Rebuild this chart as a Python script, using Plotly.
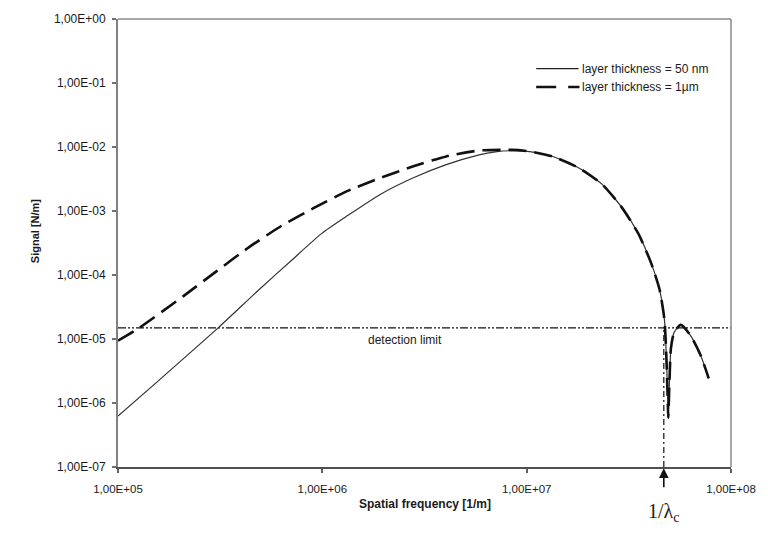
import plotly.graph_objects as go
import math

# ---- data ----
freq_50nm = [1.00e5, 1.56e5, 3.09e5, 4.91e5, 7.10e5, 9.91e5, 1.33e6, 1.93e6, 2.79e6,
             4.04e6, 5.85e6, 7.03e6, 8.61e6, 1.035e7, 1.34e7, 1.80e7, 2.34e7, 2.92e7,
             3.52e7, 4.07e7, 4.47e7, 4.72e7, 4.81e7, 4.90e7, 4.93e7, 5.08e7, 5.27e7,
             5.68e7, 6.34e7, 7.10e7, 7.78e7]
signal_50nm = [6.24e-7, 2.16e-6, 1.49e-5, 5.93e-5, 1.72e-4, 4.43e-4, 8.47e-4, 1.83e-3, 3.30e-3,
               5.30e-3, 7.55e-3, 8.41e-3, 8.75e-3, 8.47e-3, 7.11e-3, 4.71e-3, 2.61e-3, 1.14e-3,
               4.43e-4, 1.52e-4, 5.92e-5, 2.04e-5, 7.08e-6, 1.20e-6, 5.89e-7, 7.05e-6, 1.27e-5,
               1.66e-5, 1.13e-5, 5.57e-6, 2.43e-6]

freq_1um = [1.00e5, 1.27e5, 2.09e5, 3.03e5, 4.40e5, 6.35e5, 9.20e5, 1.33e6, 1.93e6, 2.79e6,
            4.04e6, 5.85e6, 8.47e6, 1.035e7, 1.34e7, 1.80e7, 2.34e7, 2.92e7, 3.52e7, 4.07e7,
            4.47e7, 4.72e7, 4.81e7, 4.90e7, 4.93e7, 5.08e7, 5.27e7, 5.68e7, 6.34e7, 7.10e7, 7.78e7]
signal_1um = [9.4e-6, 1.49e-5, 4.68e-5, 1.14e-4, 2.75e-4, 5.94e-4, 1.14e-3, 2.06e-3, 3.30e-3, 5.00e-3,
              7.13e-3, 8.81e-3, 9.02e-3, 8.55e-3, 7.11e-3, 4.71e-3, 2.61e-3, 1.14e-3, 4.43e-4, 1.52e-4,
              5.92e-5, 2.04e-5, 7.08e-6, 1.20e-6, 5.89e-7, 7.05e-6, 1.27e-5, 1.66e-5, 1.13e-5, 5.57e-6, 2.43e-6]

detection_limit = 1.49e-5
lambda_c_inv = 4.69e7
x_range = [1e5, 1e8]
y_min = 1e-7

x_tickvals = [1e5, 1e6, 1e7, 1e8]
x_ticktext = ["1,00E+05", "1,00E+06", "1,00E+07", "1,00E+08"]
y_tickvals = [1e-7, 1e-6, 1e-5, 1e-4, 1e-3, 1e-2, 1e-1, 1e0]
y_ticktext = ["1,00E-07", "1,00E-06", "1,00E-05", "1,00E-04", "1,00E-03",
              "1,00E-02", "1,00E-01", "1,00E+00"]

name_50nm = "layer thickness = 50 nm"
name_1um = "layer thickness = 1µm"

FONT = "Liberation Sans, Arial, sans-serif"
TXT = "#1a1a1a"

fig = go.Figure()

# detection limit line
fig.add_trace(go.Scatter(x=x_range, y=[detection_limit, detection_limit], mode="lines",
                         line=dict(color="#111", width=1.4, dash="8px,2px,2px,2px,2px,2px"),
                         showlegend=False, hoverinfo="skip"))
# vertical marker line at 1/lambda_c
fig.add_trace(go.Scatter(x=[lambda_c_inv, lambda_c_inv], y=[y_min, detection_limit], mode="lines",
                         line=dict(color="#111", width=1.2, dash="6px,3px,2px,3px"),
                         showlegend=False, hoverinfo="skip"))

fig.add_trace(go.Scatter(x=freq_50nm, y=signal_50nm, mode="lines", name=name_50nm,
                         line=dict(color="#333", width=1.2, shape="spline", smoothing=0.6),
                         showlegend=False))
fig.add_trace(go.Scatter(x=freq_1um, y=signal_1um, mode="lines", name=name_1um,
                         line=dict(color="#111", width=2.6, dash="18px,8px",
                                   shape="spline", smoothing=0.6),
                         showlegend=False))

# manual legend (sample lines + labels)
fig.add_shape(type="line", xref="paper", yref="paper",
              x0=(543 - 118) / 623, x1=(586 - 118) / 623,
              y0=(467 - 62.3) / 455, y1=(467 - 62.3) / 455,
              line=dict(color="#222", width=1.2))
fig.add_shape(type="line", xref="paper", yref="paper",
              x0=(543 - 118) / 623, x1=(587 - 118) / 623,
              y0=(467 - 81) / 455, y1=(467 - 81) / 455,
              line=dict(color="#111", width=2.6, dash="20px,12px"))
fig.add_annotation(text=name_50nm, xref="paper", yref="paper",
                   x=(588 - 118) / 623, y=(467 - 62.3) / 455, xanchor="left", yanchor="middle",
                   showarrow=False, font=dict(family=FONT, size=12, color=TXT))
fig.add_annotation(text=name_1um, xref="paper", yref="paper",
                   x=(588 - 118) / 623, y=(467 - 81) / 455, xanchor="left", yanchor="middle",
                   showarrow=False, font=dict(family=FONT, size=12, color=TXT))

# top & right frame
fig.add_shape(type="line", xref="paper", yref="paper", x0=0, x1=1, y0=1, y1=1,
              line=dict(color="#8a8a8a", width=1.5))
fig.add_shape(type="line", xref="paper", yref="paper", x0=1, x1=1, y0=0, y1=1,
              line=dict(color="#8a8a8a", width=1.5))

# detection limit label
fig.add_annotation(text="detection limit", x=math.log10(2.54e6), y=math.log10(detection_limit),
                   yshift=-12, showarrow=False, font=dict(family=FONT, size=12, color=TXT))

# arrow and 1/lambda_c label
fig.add_annotation(text=" ", x=math.log10(lambda_c_inv), xref="x", y=-0.003, yref="paper",
                   ax=0, ay=29, showarrow=True, arrowhead=2, arrowsize=1.2, arrowwidth=1.6,
                   arrowcolor="#111")
fig.add_annotation(text="1/λ<sub>c</sub>", x=math.log10(lambda_c_inv), xref="x",
                   y=(467 - 528) / 455, yref="paper", showarrow=False,
                   font=dict(family="Liberation Serif, Times New Roman, serif", size=20, color=TXT))

# axis titles
fig.add_annotation(text="<b>Spatial frequency [1/m]</b>", xref="paper", yref="paper",
                   x=0.5, y=(467 - 514) / 455, showarrow=False,
                   font=dict(family=FONT, size=12, color=TXT))
fig.add_annotation(text="<b>Signal [N/m]</b>", xref="paper", yref="paper",
                   x=(25 - 118) / 623, y=(467 - 227) / 455, textangle=-90, showarrow=False,
                   font=dict(family=FONT, size=11, color=TXT))

fig.update_xaxes(type="log", range=[5, 8], tickvals=x_tickvals, ticktext=x_ticktext,
                 showgrid=False, zeroline=False, showline=True, linecolor="#505050", linewidth=2,
                 ticks="outside", ticklen=4, tickwidth=1.5, tickcolor="#606060",
                 ticklabelstandoff=6, tickfont=dict(family=FONT, size=11.5, color=TXT))
fig.update_yaxes(type="log", range=[-7, 0], tickvals=y_tickvals, ticktext=y_ticktext,
                 showgrid=False, zeroline=False, showline=True, linecolor="#808080", linewidth=2,
                 ticks="outside", ticklen=4, tickwidth=1.5, tickcolor="#707070",
                 ticklabelstandoff=4, tickfont=dict(family=FONT, size=12, color=TXT))

fig.update_layout(width=768, height=543, margin=dict(l=118, r=27, t=12, b=76),
                  paper_bgcolor="white", plot_bgcolor="white", showlegend=False)

fig.write_html("out.html", config={"displayModeBar": False},
               post_script="document.body.style.margin='0';document.body.style.overflow='hidden';")
